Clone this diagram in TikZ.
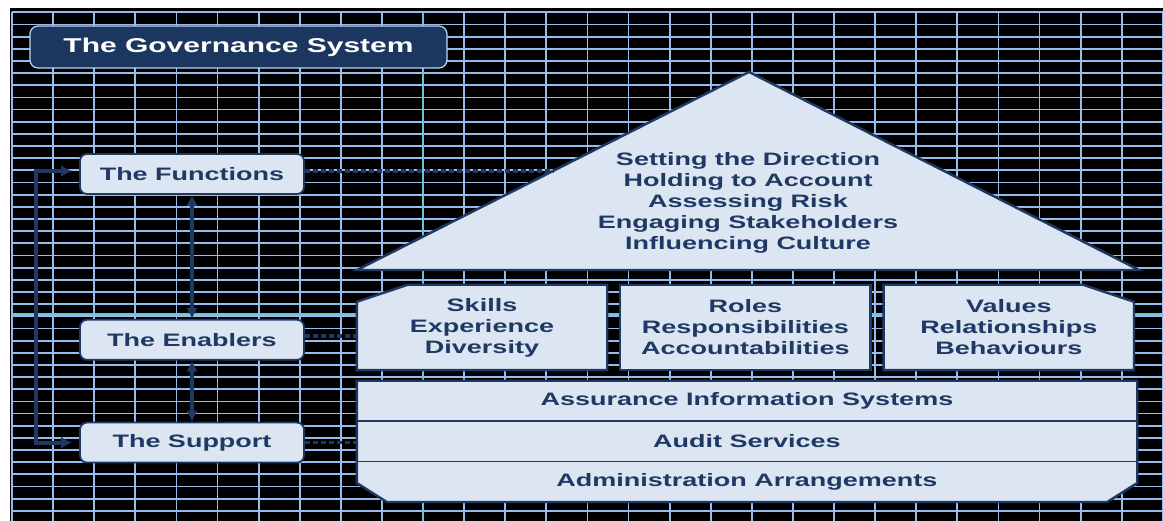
\documentclass[tikz,border=0pt]{standalone}
\usepackage{fontspec}
\newfontfamily\govfont{Liberation Sans}[FakeStretch=1.5]
\usetikzlibrary{arrows.meta,positioning,calc}
\usepackage{xcolor}

\definecolor{navy}{RGB}{31,56,100}
\definecolor{boxfill}{RGB}{220,230,242}
\definecolor{titlefill}{RGB}{28,55,95}
\definecolor{gridblue}{RGB}{150,188,235}
\definecolor{gridcyan}{RGB}{110,195,220}

\pgfdeclarelayer{back}
\pgfsetlayers{back,main}

\begin{document}
\begin{tikzpicture}[x=1pt,y=1pt,>={Latex[length=11pt,width=12pt]},
    side box/.style={rectangle,rounded corners=7pt,draw=navy,line width=1.8pt,fill=boxfill,
        minimum width=224pt,minimum height=40pt,text=navy,font=\govfont\bfseries\fontsize{18}{21}\selectfont},
    label txt/.style={align=center,text=navy,font=\govfont\bfseries\fontsize{18}{21}\selectfont},
    pillar/.style={label txt,minimum width=250pt,minimum height=85pt},
    row/.style={label txt,minimum width=780pt,minimum height=40pt},
    shell/.style={draw=navy,line width=2.4pt,fill=boxfill,line join=miter},
    gridline/.style={draw=gridblue,line width=1.8pt},
    link/.style={navy,line width=4pt},
    tie/.style={navy,line width=3.5pt,dash pattern=on 5pt off 3pt}]

    \useasboundingbox (0,0) rectangle (1163,521);

    % title and the three left boxes
    \node[rectangle,rounded corners=8pt,draw=gridblue!60!white,line width=1.2pt,fill=titlefill,
        minimum width=417pt,minimum height=42pt,text=white,
        font=\govfont\bfseries\fontsize{20}{24}\selectfont] (title) at (238.5,474) {The Governance System};

    \node[side box] (func) at (192,347) {The Functions};
    \node[side box] (enab) [below=124pt of func] {The Enablers};
    \node[side box] (supp) [below=61pt of enab] {The Support};

    % the house
    \coordinate (apex) at (749,449);
    \coordinate (roofL) at (357,251);
    \coordinate (roofR) at (1139,251);
    \coordinate (roofhit) at ($(roofL)!0.5!(apex)$);
    \node[label txt] (roof) at (748,318.5) {Setting the Direction\\Holding to Account\\Assessing Risk\\Engaging Stakeholders\\Influencing Culture};

    \node[pillar] (skills) at (482,193.5) {Skills\\Experience\\Diversity};
    \node[pillar] (roles) [right=13pt of skills] {Roles\\Responsibilities\\Accountabilities};
    \node[pillar] (values) [right=13pt of roles] {Values\\Relationships\\Behaviours};

    \node[row] (assur) at (747,120) {Assurance Information Systems};
    \node[row] (audit) [below=0pt of assur] {Audit Services};
    \node[row] (admin) [below=0pt of audit] {Administration Arrangements};

    \begin{pgfonlayer}{back}
        \fill[white] (0,0) rectangle (1163,521);
        \fill[black] (10,0) rectangle (1163,513);
        \foreach \i in {0,...,28}
            \draw[gridline] ({12+41.1*\i},0) -- ({12+41.1*\i},509);
        \foreach \j in {0,...,41}
            \draw[gridline] (12,{508.7-12.16*\j}) -- (1163,{508.7-12.16*\j});
        \draw[gridcyan,line width=1.2pt] (423,0) -- (423,509);
        \draw[gridcyan,line width=1.2pt] (12,207) -- (1163,207);

        \draw[shell] (roofL) -- (apex) -- (roofR) -- cycle;
        \draw[shell] (skills.south west) -- ([yshift=-17pt]skills.north west) -- ([xshift=51pt]skills.north west)
            -- (skills.north east) -- (skills.south east) -- cycle;
        \draw[shell] (roles.south west) rectangle (roles.north east);
        \draw[shell] (values.south west) -- (values.north west) -- ([xshift=-51pt]values.north east)
            -- ([yshift=-17pt]values.north east) -- (values.south east) -- cycle;
        \draw[shell] (assur.north west) -- (assur.north east) -- ([yshift=19pt]admin.south east)
            -- ([xshift=-30pt]admin.south east) -- ([xshift=30pt]admin.south west)
            -- ([yshift=19pt]admin.south west) -- cycle;
        \draw[navy,line width=1.8pt] (assur.south west) -- (assur.south east);
        \draw[navy,line width=1.8pt] (audit.south west) -- (audit.south east);
    \end{pgfonlayer}

    % links
    \draw[link,<->] (func.south) -- (enab.north);
    \draw[link,<->] (enab.south) -- (supp.north);
    \draw[link,<->,shorten <=7pt,shorten >=7pt] ([yshift=3pt]func.west) -- ++(-43,0) |- (supp.west);

    \draw[tie] (func.east |- roofhit) -- (roofhit);
    \draw[tie] ([yshift=4pt]enab.east) -- ([yshift=4pt]enab.east -| skills.west);
    \draw[tie] (supp.east) -- (supp.east -| audit.west);
\end{tikzpicture}
\end{document}
